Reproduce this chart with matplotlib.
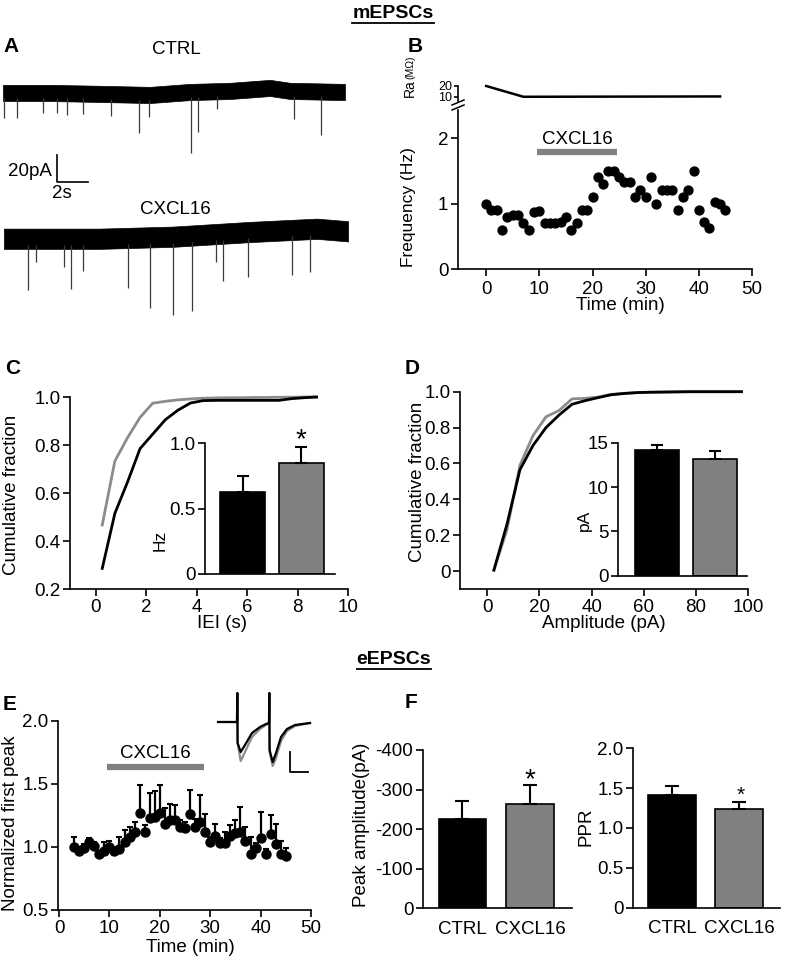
import matplotlib
matplotlib.use('Agg')
import matplotlib.pyplot as plt
from matplotlib.lines import Line2D
import numpy as np

plt.rcParams['font.family'] = ['Liberation Sans', 'DejaVu Sans']
plt.rcParams['font.size'] = 13
plt.rcParams['axes.linewidth'] = 1.2
plt.rcParams['xtick.major.width'] = 1.2
plt.rcParams['ytick.major.width'] = 1.2
plt.rcParams['xtick.major.size'] = 5
plt.rcParams['ytick.major.size'] = 5
plt.rcParams['xtick.major.pad'] = 2
plt.rcParams['ytick.major.pad'] = 2

# ---------------- DATA ----------------
# Panel A: example traces (time s, current pA)
ctrl_base_t = [0.0, 3.03, 6.26, 9.48, 12.06, 14.65, 17.23, 18.52, 22.06]
ctrl_base_v = [0.0, 0.0, -0.7, -1.5, 0.7, 1.5, 3.7, 1.5, 0.7]
ctrl_evt_t = [0.06, 0.9, 2.58, 3.48, 4.13, 5.16, 6.97, 8.77, 9.42, 12.13, 12.58, 13.81, 18.77, 20.52]
ctrl_evt_amp = [18.5, 18.5, 15, 15, 16, 15, 16, 28, 16, 45, 30, 13, 21, 32]
cx_base_t = [0.06, 6.26, 10.97, 15.94, 20.26, 22.26]
cx_base_v = [0.0, 0.0, 1.5, 5.0, 7.4, 5.5]
cx_evt_t = [1.61, 2.13, 3.94, 4.39, 5.16, 8.06, 9.48, 10.97, 12.19, 13.74, 14.19, 15.81, 18.65, 19.81]
cx_evt_amp = [38, 17, 21, 37, 24, 37, 52, 58, 56, 21, 35, 33, 33, 32]

# Panel B: mEPSC frequency time course
freq_t = list(range(0, 46))
freq_v = [1.0, 0.9, 0.9, 0.6, 0.8, 0.82, 0.82, 0.7, 0.6, 0.87, 0.88, 0.7, 0.7, 0.7, 0.72, 0.8,
          0.6, 0.7, 0.9, 0.9, 1.1, 1.4, 1.3, 1.5, 1.5, 1.4, 1.33, 1.33, 1.1, 1.2, 1.1, 1.4,
          1.0, 1.2, 1.2, 1.2, 0.9, 1.1, 1.2, 1.5, 0.9, 0.72, 0.62, 1.02, 1.0, 0.9]
ra_t = [0, 7, 44]
ra_v = [20, 10.2, 10.5]
drug_B = [9.6, 24.6]

# Panel C: IEI cumulative
iei_x = [0.25, 0.75, 1.25, 1.75, 2.25, 2.75, 3.25, 3.75, 4.25, 4.75, 5.25, 5.75, 6.25, 6.75, 7.25, 7.75, 8.25, 8.75]
iei_ctrl = [0.286, 0.515, 0.645, 0.785, 0.845, 0.905, 0.945, 0.975, 0.985, 0.986, 0.986, 0.986, 0.986, 0.986, 0.986, 0.993, 0.997, 1.0]
iei_cx = [0.467, 0.733, 0.83, 0.915, 0.974, 0.982, 0.988, 0.992, 0.995, 0.996, 0.997, 0.997, 0.998, 0.998, 0.999, 0.999, 1.0, 1.0]
freq_bar = [0.628, 0.845]
freq_err = [0.122, 0.125]

# Panel D: amplitude cumulative
amp_x = [2.5, 7.5, 12.5, 17.5, 22.5, 27.5, 32.5, 37.5, 42.5, 47.5, 52.5, 57.5, 62.5, 67.5, 72.5, 77.5, 82.5, 87.5, 92.5, 97.5]
amp_ctrl = [0.005, 0.26, 0.565, 0.70, 0.80, 0.87, 0.93, 0.95, 0.967, 0.983, 0.99, 0.995, 0.997, 0.998, 0.999, 1.0, 1.0, 1.0, 1.0, 1.0]
amp_cx = [0.005, 0.23, 0.59, 0.755, 0.86, 0.895, 0.96, 0.963, 0.97, 0.985, 0.991, 0.995, 0.997, 0.998, 0.999, 1.0, 1.0, 1.0, 1.0, 1.0]
amp_bar = [14.15, 13.15]
amp_err = [0.55, 0.9]

# Panel E: normalized first peak
e_t = list(range(3, 46))
e_v = [1.00, 0.97, 0.99, 1.04, 1.01, 0.94, 0.97, 1.00, 0.97, 0.98, 1.04, 1.08, 1.12, 1.27, 1.12,
       1.23, 1.24, 1.27, 1.18, 1.21, 1.21, 1.16, 1.15, 1.26, 1.16, 1.20, 1.12, 1.04, 1.09, 1.03,
       1.03, 1.09, 1.11, 1.12, 1.05, 0.94, 0.99, 1.07, 0.94, 1.10, 1.02, 0.94, 0.93]
e_err = [0.076, 0.03, 0.03, 0.03, 0.03, 0.03, 0.07, 0.05, 0.03, 0.10, 0.09, 0.08, 0.08, 0.22, 0.05,
         0.20, 0.20, 0.22, 0.13, 0.13, 0.12, 0.05, 0.05, 0.19, 0.06, 0.21, 0.14, 0.04, 0.09, 0.04,
         0.09, 0.08, 0.10, 0.20, 0.11, 0.14, 0.04, 0.21, 0.04, 0.15, 0.16, 0.11, 0.06]
drug_E = [9.5, 28.8]
# inset example eEPSC traces
ins_t = [0, 19, 19.3, 19.6, 22.7, 27, 34, 42, 48, 51, 51.3, 51.6, 54.7, 58, 63, 69, 77, 92]
ins_ctrl = [0, 0, 29, -21, -30, -23, -11, -5, -2, -1, 29, -28, -40, -31, -15, -7, -3, -1]
ins_cx = [0, 0, 29, -21, -39, -30, -15, -7, -3, -1, 29, -30, -44, -36, -19, -9, -4, -1]

# Panel F
groups = ['CTRL', 'CXCL16']
peak_bar = [225, 263]
peak_err = [46, 49]
ppr_bar = [1.42, 1.235]
ppr_err = [0.105, 0.085]

GRAY = '#808080'
LGRAY = '#8c8c8c'

# ---------------- FIGURE ----------------
W, H = 787, 960
fig = plt.figure(figsize=(W / 100, H / 100), dpi=100)


def axpx(l, t, r, b):
    return fig.add_axes([l / W, 1 - b / H, (r - l) / W, (b - t) / H])


def txt(x, y, s, **kw):
    return fig.text(x / W, 1 - y / H, s, **kw)


def clean(ax):
    ax.spines['top'].set_visible(False)
    ax.spines['right'].set_visible(False)
    ax.patch.set_visible(False)


# Titles
t1 = txt(393, 13, 'mEPSCs', ha='center', va='center', fontsize=14, fontweight='bold')
t2 = txt(394, 659, 'eEPSCs', ha='center', va='center', fontsize=14, fontweight='bold')

# Panel letters
for x, y, s in [(3, 47, 'A'), (408, 46, 'B'), (5, 368, 'C'), (405, 369, 'D'), (3, 705, 'E'), (405, 703, 'F')]:
    txt(x, y, s, ha='left', va='center', fontsize=15, fontweight='bold')

# ---- Panel A ----
axA = axpx(0, 60, 360, 330)
axA.set_xlim(-0.19, 23.03)
axA.set_ylim(-175.6, 24.4)
axA.axis('off')
for bt, bv, et, ea, off, hw in [(ctrl_base_t, ctrl_base_v, ctrl_evt_t, ctrl_evt_amp, 0.0, 6.0),
                                (cx_base_t, cx_base_v, cx_evt_t, cx_evt_amp, -108.0, 7.5)]:
    bt = np.array(bt); bv = np.array(bv) + off
    axA.fill_between(bt, bv - hw, bv + hw, color='black', lw=0.5)
    b_at = np.interp(et, bt, bv)
    axA.vlines(et, b_at - hw * 0.6, b_at - np.array(ea), color='#3a3a3a', lw=0.9)
# scale bar 20 pA / 2 s
sb_x, sb_y = 3.48, -65.9
axA.plot([sb_x, sb_x, sb_x + 2], [sb_y + 20, sb_y, sb_y], color='black', lw=1.2)
txt(52, 171, '20pA', ha='right', va='center', fontsize=13.5)
txt(62, 193, '2s', ha='center', va='center', fontsize=13.5)
txt(176, 49, 'CTRL', ha='center', va='center', fontsize=13.5)
txt(175, 210, 'CXCL16', ha='center', va='center', fontsize=13.5)

# ---- Panel B ----
axB = axpx(458, 110, 752, 269)
clean(axB)
axB.plot(freq_t, freq_v, 'o', color='black', ms=6.4, clip_on=False)
axB.set_xlim(-5.3, 50)
axB.set_ylim(0, 2.43)
axB.set_xticks(range(0, 51, 10))
axB.set_yticks([0, 1, 2])
axB.tick_params(labelsize=13.5)
axB.tick_params(axis='x', pad=4)
axB.plot(drug_B, [1.79, 1.79], color=GRAY, lw=4.5, solid_capstyle='butt')
axB.text(np.mean(drug_B), 1.98, 'CXCL16', ha='center', va='center', fontsize=13.5)
txt(408, 207, 'Frequency (Hz)', rotation=90, ha='center', va='center', fontsize=12.5)
txt(620, 306, 'Time (min)', ha='center', va='center', fontsize=13.5)

axR = axpx(458, 84, 752, 103)
axR.patch.set_visible(False)
for s in ['top', 'right', 'bottom']:
    axR.spines[s].set_visible(False)
axR.plot(ra_t, ra_v, color='black', lw=1.8)
axR.set_xlim(-5.3, 50)
axR.set_ylim(4.55, 21.8)
axR.set_xticks([])
axR.set_yticks([10, 20])
axR.tick_params(axis='y', labelsize=9, length=3, pad=1)
axR.spines['left'].set_bounds(6, 20)
txt(410, 88, 'Ra', rotation=90, ha='center', va='center', fontsize=10)
txt(410, 67, '(MΩ)', rotation=90, ha='center', va='center', fontsize=7.5)
# axis break marks
for yy in (102.5, 107.5):
    fig.add_artist(Line2D([452 / W, 464 / W], [1 - (yy + 2.5) / H, 1 - (yy - 2.5) / H], color='black', lw=1.1))

# ---- Panel C ----
axC = axpx(70, 397, 348, 589)
clean(axC)
axC.plot(iei_x, iei_cx, color=LGRAY, lw=2, clip_on=False)
axC.plot(iei_x, iei_ctrl, color='black', lw=2, clip_on=False)
axC.set_xlim(-1.03, 10)
axC.set_ylim(0.2, 1.0)
axC.set_xticks(range(0, 11, 2))
axC.set_yticks([0.2, 0.4, 0.6, 0.8, 1.0])
axC.set_yticklabels(['0.2', '0.4', '0.6', '0.8', '1.0'])
axC.tick_params(labelsize=13.5)
txt(12, 495, 'Cumulative fraction', rotation=90, ha='center', va='center', fontsize=13.5)
txt(222, 624, 'IEI (s)', ha='center', va='center', fontsize=13.5)

axCi = axpx(205, 443, 335, 574)
clean(axCi)
axCi.bar([0, 1], freq_bar, width=0.76, color=['black', GRAY], edgecolor='black', lw=1.2)
axCi.errorbar([0, 1], freq_bar, yerr=[[0, 0], freq_err], fmt='none', ecolor='black',
              elinewidth=1.5, capsize=4.5, capthick=1.5)
axCi.set_xlim(-0.636, 1.568)
axCi.set_ylim(0, 1.0)
axCi.set_xticks([])
axCi.set_yticks([0, 0.5, 1.0])
axCi.set_yticklabels(['0', '0.5', '1.0'])
axCi.tick_params(labelsize=13.5)
txt(160, 540, 'Hz', rotation=90, ha='center', va='center', fontsize=12.5)
txt(301, 447, '*', ha='center', va='baseline', fontsize=20)

# ---- Panel D ----
axD = axpx(460, 391.7, 748, 589)
clean(axD)
axD.plot(amp_x, amp_cx, color=LGRAY, lw=2, clip_on=False)
axD.plot(amp_x, amp_ctrl, color='black', lw=2, clip_on=False)
axD.set_xlim(-10.5, 100)
axD.set_ylim(-0.1, 1.0)
axD.set_xticks(range(0, 101, 20))
axD.set_yticks([0, 0.2, 0.4, 0.6, 0.8, 1.0])
axD.set_yticklabels(['0', '0.2', '0.4', '0.6', '0.8', '1.0'])
axD.tick_params(labelsize=13.5)
txt(417, 482, 'Cumulative fraction', rotation=90, ha='center', va='center', fontsize=13.5)
txt(604, 624, 'Amplitude (pA)', ha='center', va='center', fontsize=13.5)

axDi = axpx(618, 442.7, 747, 575.7)
clean(axDi)
axDi.bar([0, 1], amp_bar, width=0.765, color=['black', GRAY], edgecolor='black', lw=1.2)
axDi.errorbar([0, 1], amp_bar, yerr=[[0, 0], amp_err], fmt='none', ecolor='black',
              elinewidth=1.5, capsize=4.5, capthick=1.5)
axDi.set_xlim(-0.673, 1.56)
axDi.set_ylim(0, 15)
axDi.set_xticks([])
axDi.set_yticks([0, 5, 10, 15])
axDi.tick_params(labelsize=13.5)
txt(584, 520, 'pA', rotation=90, ha='center', va='center', fontsize=12.5)

# ---- Panel E ----
axE = axpx(58, 720.7, 311, 910)
clean(axE)
axE.errorbar(e_t, e_v, yerr=[np.zeros(len(e_err)), e_err], fmt='o', color='black', ms=6.5,
             ecolor='black', elinewidth=1.6, capsize=2, capthick=1.5, clip_on=False)
axE.plot(drug_E, [1.63, 1.63], color=GRAY, lw=4.5, solid_capstyle='butt')
axE.text(19.2, 1.74, 'CXCL16', ha='center', va='center', fontsize=13.5)
axE.set_xlim(-0.2, 50)
axE.set_ylim(0.5, 2.0)
axE.set_xticks(range(0, 51, 10))
axE.set_yticks([0.5, 1.0, 1.5, 2.0])
axE.set_yticklabels(['0.5', '1.0', '1.5', '2.0'])
axE.tick_params(labelsize=13.5)
txt(11, 823, 'Normalized first peak', rotation=90, ha='center', va='center', fontsize=13.5)
txt(190, 947, 'Time (min)', ha='center', va='center', fontsize=13.5)

axEi = axpx(210, 688, 320, 775)
axEi.axis('off')
axEi.set_xlim(-8, 102)
axEi.set_ylim(-53, 34)
axEi.plot(ins_t, ins_cx, color=LGRAY, lw=1.6)
axEi.plot(ins_t, ins_ctrl, color='black', lw=1.6)
axEi.plot([72, 72, 90], [-30, -50, -50], color='black', lw=1.3)

# ---- Panel F ----
axF1 = axpx(423, 750, 572, 908.3)
clean(axF1)
axF1.bar([0, 1], peak_bar, width=0.70, color=['black', GRAY], edgecolor='black', lw=1.2)
axF1.errorbar([0, 1], peak_bar, yerr=[[0, 0], peak_err], fmt='none', ecolor='black',
              elinewidth=1.5, capsize=5, capthick=1.5)
axF1.set_xlim(-0.58, 1.62)
axF1.set_ylim(0, 400)
axF1.set_xticks([0, 1])
axF1.set_xticklabels(groups)
axF1.set_yticks([0, 100, 200, 300, 400])
axF1.set_yticklabels(['0', '-100', '-200', '-300', '-400'])
axF1.tick_params(axis='x', length=0, pad=9)
axF1.tick_params(labelsize=13.5)
txt(362, 825, 'Peak amplitude(pA)', rotation=90, ha='center', va='center', fontsize=13.5)
txt(530, 787, '*', ha='center', va='baseline', fontsize=20)

axF2 = axpx(633, 748.3, 780, 907.7)
clean(axF2)
axF2.bar([0, 1], ppr_bar, width=0.71, color=['black', GRAY], edgecolor='black', lw=1.2)
axF2.errorbar([0, 1], ppr_bar, yerr=[[0, 0], ppr_err], fmt='none', ecolor='black',
              elinewidth=1.5, capsize=5, capthick=1.5)
axF2.set_xlim(-0.58, 1.61)
axF2.set_ylim(0, 2.0)
axF2.set_xticks([0, 1])
axF2.set_xticklabels(groups)
axF2.set_yticks([0, 0.5, 1.0, 1.5, 2.0])
axF2.set_yticklabels(['0', '0.5', '1.0', '1.5', '2.0'])
axF2.tick_params(axis='x', length=0, pad=9)
axF2.tick_params(labelsize=13.5)
txt(586, 827, 'PPR', rotation=90, ha='center', va='center', fontsize=13.5)
txt(741, 801, '*', ha='center', va='baseline', fontsize=15)

# underline titles
fig.canvas.draw()
r = fig.canvas.get_renderer()
for t in (t1, t2):
    bb = t.get_window_extent(r)
    yline = (bb.y0 - 1) / H
    fig.add_artist(Line2D([bb.x0 / W, bb.x1 / W], [yline, yline], color='black', lw=1.3))

fig.savefig('out.png', dpi=100)
